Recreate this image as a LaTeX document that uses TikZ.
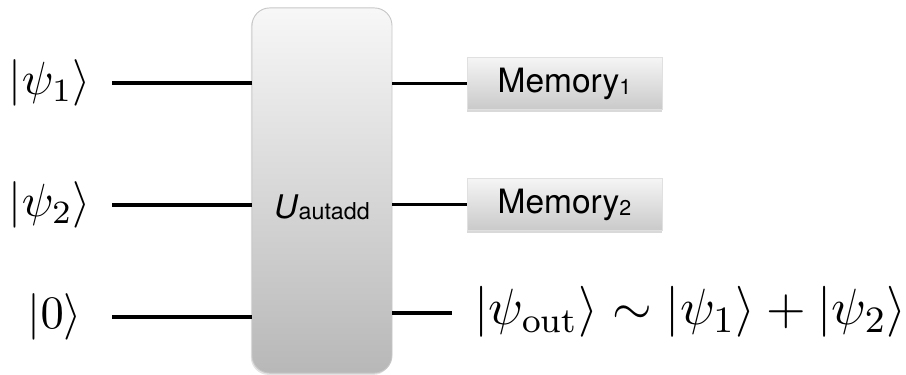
\documentclass[tikz,border=0pt]{standalone}
\usepackage{fontspec}
\newfontfamily\helv{TeX Gyre Heros}
\usetikzlibrary{shadows}

\begin{document}
\begin{tikzpicture}[x=0.215pt, y=-0.215pt,
	wire/.style={line width=0.65pt},
	gatebox/.style={rounded corners=3.8pt, top color=black!3, bottom color=black!28,
		draw=black!22, line width=0.2pt,
		drop shadow={shadow xshift=-0.25pt, shadow yshift=-0.4pt, opacity=0.22}},
	membox/.style={top color=black!4, bottom color=black!21, draw=black!12,
		line width=0.15pt, minimum width=41.9pt, minimum height=11.2pt,
		inner sep=0pt, font=\helv\fontsize{7.2}{8}\selectfont,
		drop shadow={shadow xshift=0pt, shadow yshift=-0.6pt, opacity=0.3}},
	ket/.style={inner sep=0pt, font=\fontsize{10.3}{12}\selectfont}]
	\useasboundingbox (0,0) rectangle (906,375);

	% Gatter
	\node[gatebox, minimum width=30.1pt, minimum height=78.5pt] (gate) at (322,190.5) {};
	\node[inner sep=0pt] (gatelabel) at (322,207)
		{\helv\fontsize{7}{8}\selectfont\textit{U}\raisebox{-0.25pt}{\fontsize{5}{6}\selectfont autadd}};

	% Eingaenge
	\node[ket, anchor=east] (psi1) at (92,83) {$|\psi_1\rangle$};
	\node[ket, anchor=east] (psi2) at (92,205) {$|\psi_2\rangle$};
	\node[ket, anchor=east] (zero) at (83,317) {$|0\rangle$};
	\coordinate (in1) at (112,83);
	\coordinate (in2) at (112,205);
	\coordinate (in3) at (112,317);
	\draw[wire] (in1) -- (in1 -| gate.west);
	\draw[wire] (in2) -- (in2 -| gate.west);
	\draw[wire] (in3) -- (in3 -| gate.west);

	% Ausgaenge
	\node[membox] (mem1) at (564.5,83.5) {Memory\raisebox{-0.5pt}{\fontsize{4.6}{5}\selectfont 1}};
	\node[membox] (mem2) at (564.5,204.5) {Memory\raisebox{-0.5pt}{\fontsize{4.6}{5}\selectfont 2}};
	\coordinate (out3) at (452,313);
	\node[inner ysep=0pt, inner xsep=4.7pt, anchor=west, font=\fontsize{10.8}{12}\selectfont] (psiout) at (452,312)
		{$|\psi_{\mathrm{out}}\rangle \sim |\psi_1\rangle + |\psi_2\rangle$};
	\draw[wire] (gate.east |- mem1) -- (mem1.west);
	\draw[wire] (gate.east |- mem2) -- (mem2.west);
	\draw[wire] (gate.east |- out3) -- (out3);
\end{tikzpicture}
\end{document}
